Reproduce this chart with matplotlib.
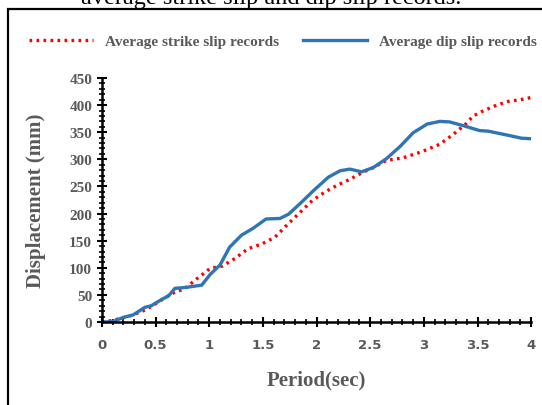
import matplotlib.pyplot as plt
from matplotlib.patches import Rectangle
from matplotlib.ticker import MultipleLocator

# period (sec) and displacement (mm)
strike_t = [0, 0.1, 0.2, 0.29, 0.4, 0.48, 0.59, 0.68, 0.77, 0.88, 1.01, 1.12, 1.24,
            1.36, 1.49, 1.61, 1.72, 1.83, 1.96, 2.08, 2.2, 2.31, 2.42, 2.53, 2.65,
            2.81, 2.98, 3.15, 3.28, 3.39, 3.46, 3.56, 3.68, 3.79, 3.9, 4.0]
strike_d = [0, 3, 8, 13, 22, 31, 45, 55, 61, 79, 99, 103, 117,
            135, 144, 156, 178, 199, 224, 240, 253, 263, 275, 285, 298,
            303, 314, 328, 347, 365, 380, 390, 400, 407, 410, 414]

dip_t = [0, 0.1, 0.2, 0.29, 0.4, 0.46, 0.56, 0.62, 0.68, 0.79, 0.93, 1.01, 1.1,
         1.19, 1.3, 1.41, 1.53, 1.66, 1.74, 1.85, 1.97, 2.11, 2.22, 2.31, 2.42,
         2.53, 2.65, 2.78, 2.9, 3.03, 3.15, 3.24, 3.37, 3.52, 3.6, 3.77, 3.91, 4.0]
dip_d = [0, 0.5, 8.6, 13, 27, 30, 42, 48, 62, 64, 68, 88, 105,
         138, 160, 173, 190, 191, 199, 219, 242, 267, 279, 282, 277,
         285, 301, 324, 349, 365, 370, 369, 362, 353, 352, 345, 339, 338]

grey = "#595959"
serif = "Liberation Serif"

fig = plt.figure(figsize=(5.42, 4.06), dpi=100)
ax = fig.add_axes([0.188, 0.2044, 0.792, 0.601])

ax.plot(strike_t, strike_d, color="red", linestyle=(0, (0.8, 1.3)), linewidth=2.4,
        label="Average strike slip records")
ax.plot(dip_t, dip_d, color="#2E75B6", linewidth=2.4, label="Average dip slip records")

ax.set_xlim(0, 4)
ax.set_ylim(0, 450)
ax.xaxis.set_minor_locator(MultipleLocator(0.1))
ax.yaxis.set_major_locator(MultipleLocator(50))
ax.yaxis.set_minor_locator(MultipleLocator(10))
ax.set_xticks([0, 0.5, 1, 1.5, 2, 2.5, 3, 3.5, 4])
ax.set_xticklabels(["0", "0.5", "1", "1.5", "2", "2.5", "3", "3.5", "4"])

for s in ["top", "right"]:
    ax.spines[s].set_visible(False)
for s in ["left", "bottom"]:
    ax.spines[s].set_linewidth(1.8)

ax.tick_params(which="major", direction="inout", length=7, width=1.5)
ax.tick_params(which="minor", direction="inout", length=4, width=1.2)
ax.tick_params(axis="x", pad=8)
for lab in ax.get_xticklabels():
    lab.set_fontfamily("DejaVu Sans")
    lab.set_fontweight("bold")
    lab.set_fontsize(9.5)
    lab.set_color(grey)
for lab in ax.get_yticklabels():
    lab.set_fontfamily(serif)
    lab.set_fontweight("bold")
    lab.set_fontsize(11)
    lab.set_color(grey)

ax.set_xlabel("Period(sec)", fontfamily=serif, fontweight="bold", fontsize=15,
              color=grey, labelpad=13)
ax.set_ylabel("Displacement (mm)", fontfamily=serif, fontweight="bold", fontsize=15,
              color=grey, labelpad=17)

fig.legend(loc="center", bbox_to_anchor=(0.522, 0.896), ncol=2, frameon=False,
           prop={"family": serif, "weight": "bold", "size": 11},
           labelcolor=grey, handlelength=4.2, columnspacing=1.5, handletextpad=0.8)

# outer chart frame and the caption line cut off above it
fig.add_artist(Rectangle((8 / 542, -0.05), 1.0, 1 - 10 / 406 + 0.05,
                         transform=fig.transFigure, fill=False,
                         edgecolor="black", linewidth=1.6))
fig.text(0.5, 0.991, "average strike slip and dip slip records.", ha="center",
         va="baseline", fontfamily=serif, fontsize=17.5, color="black")

fig.savefig("out.png", dpi=100)
